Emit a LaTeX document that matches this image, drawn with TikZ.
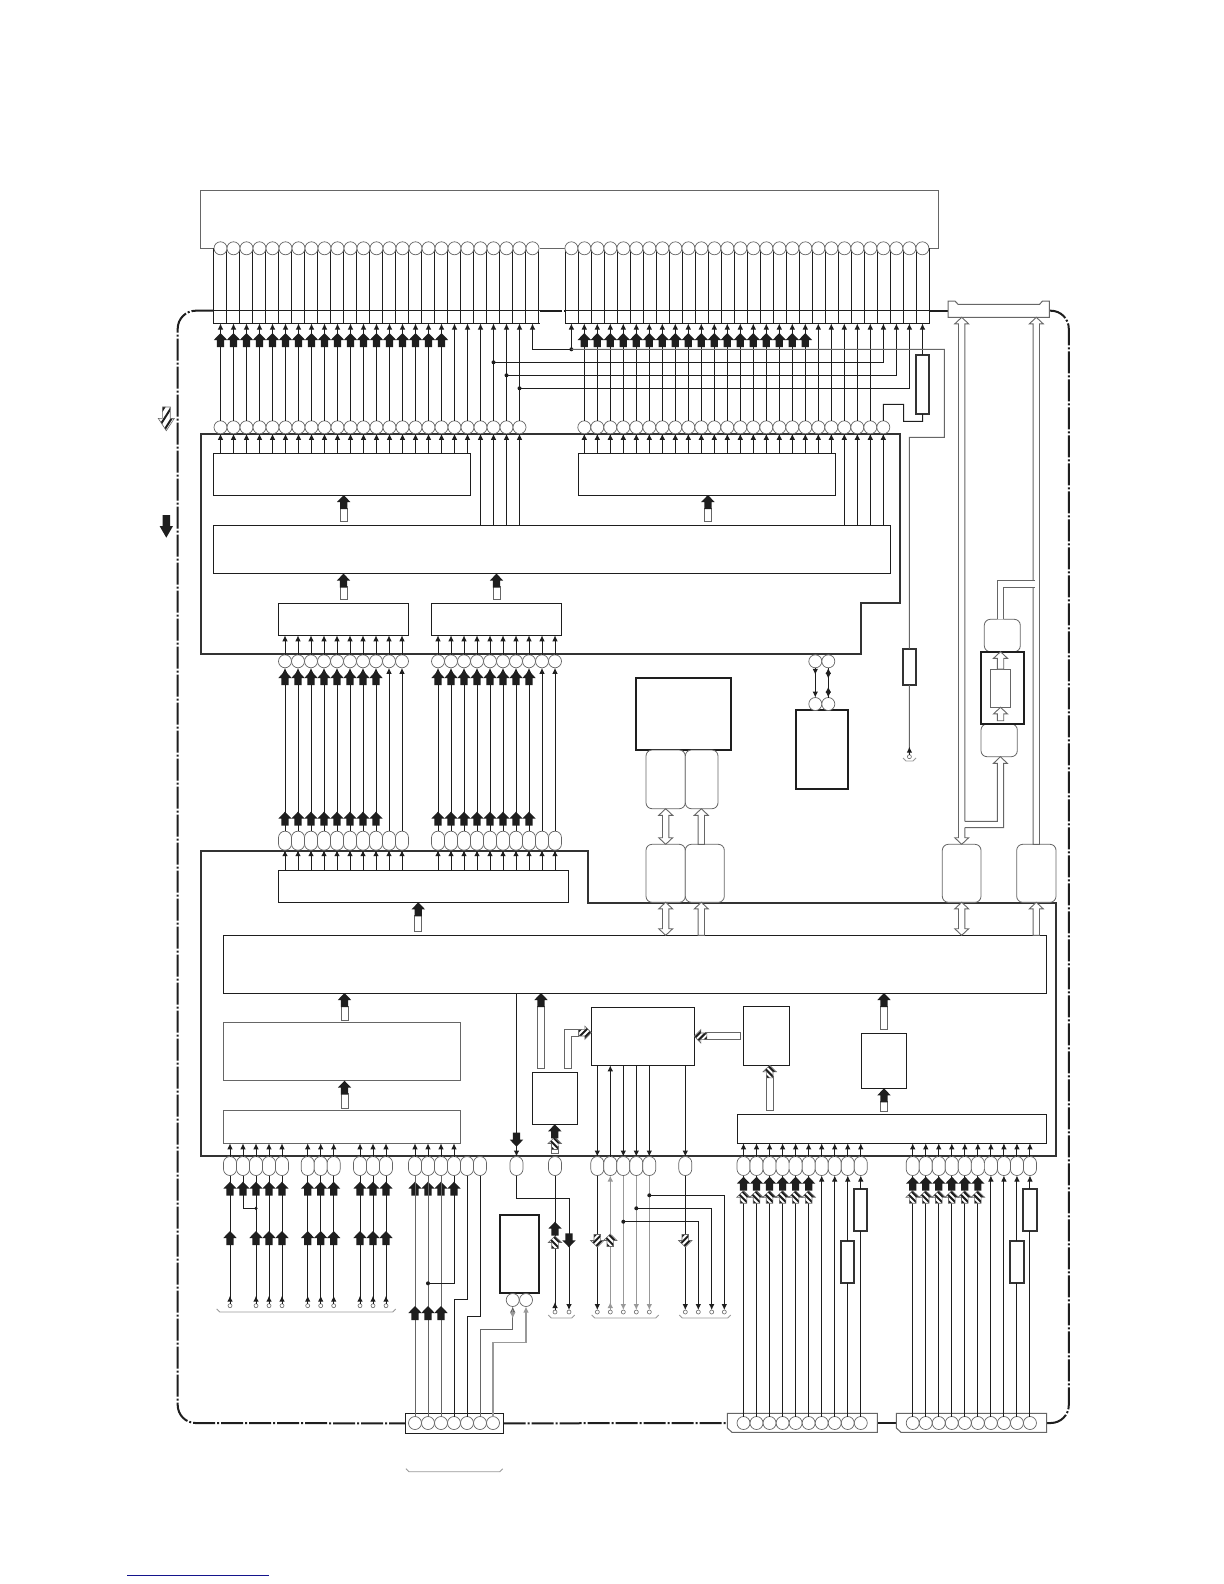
\documentclass[tikz,border=0pt]{standalone}
\usetikzlibrary{arrows.meta,calc}
\definecolor{ink}{HTML}{1E1E1E}
\definecolor{edge}{HTML}{333333}
\definecolor{soft}{HTML}{666666}
\definecolor{pale}{HTML}{999999}
\definecolor{navyline}{HTML}{14148C}
\tikzset{
  wire/.style={draw=ink,line width=.5pt},
  gwire/.style={draw=soft,line width=.5pt},
  lwire/.style={draw=pale,line width=.6pt},
  sig/.style={wire,-{Latex[length=3pt,width=2.8pt]}},
  gsig/.style={lwire,-{Latex[length=3pt,width=2.8pt]}},
  pin/.style={circle,draw=soft,fill=white,line width=.35pt,minimum size=6.5pt,inner sep=0pt,outer sep=0pt},
  oval/.style={rectangle,rounded corners=3.2pt,draw=soft,fill=white,line width=.35pt,minimum width=6.5pt,minimum height=9.5pt,inner sep=0pt,outer sep=0pt},
  term/.style={circle,draw=soft,fill=white,line width=.3pt,minimum size=2pt,inner sep=0pt,outer sep=0pt},
  box/.style={rectangle,draw=ink,fill=white,line width=.5pt,inner sep=0pt,outer sep=0pt},
  gbox/.style={rectangle,draw=soft,fill=white,line width=.45pt,inner sep=0pt,outer sep=0pt},
  hbox/.style={rectangle,draw=ink,fill=white,line width=1.1pt,inner sep=0pt,outer sep=0pt},
  rbox/.style={rectangle,rounded corners=3pt,draw=soft,fill=white,line width=.4pt,inner sep=0pt,outer sep=0pt},
  res/.style={rectangle,draw=edge,fill=white,line width=1pt,inner sep=0pt,outer sep=0pt,minimum width=6.6pt},
  border/.style={draw=edge,line width=1pt},
  frameline/.style={draw=ink,line width=1pt,dash pattern=on 11pt off 1pt on 1pt off 1pt},
  hollow/.style={draw=soft,fill=white,line width=.45pt},
  dotj/.style={fill=ink},
  brack/.style={draw=pale,line width=.45pt},
}
\newcommand\Bx[6]{\node[#1,anchor=north west,minimum width={(#5-#3)*0.5pt},minimum height={(#6-#4)*0.5pt}] (#2) at (#3,#4) {};}
\newcommand\SolidAr[3]{%
  \begin{scope}[shift={#1},#2]
    \ifnum#3>0 \draw[hollow] (-3.5,13) rectangle (3.5,14+#3);\fi
    \fill[ink] (0,0)--(6.7,7)--(3.6,7)--(3.6,14)--(-3.6,14)--(-3.6,7)--(-6.7,7)--cycle;
  \end{scope}}
\newcommand\HatchAr[3]{%
  \begin{scope}[shift={#1},#2]
    \ifnum#3>0 \draw[hollow] (-3.5,11) rectangle (3.5,12+#3);\fi
    \begin{scope}
      \clip (0,0)--(6.7,6.5)--(3.3,6.5)--(3.3,12.5)--(-3.3,12.5)--(-3.3,6.5)--(-6.7,6.5)--cycle;
      \fill[white] (-8,-1) rectangle (8,14);
      \foreach \k in {-24,-18,-12,-6,0,6,12}{\draw[ink,line width=1pt] (-8,\k)--(8,\k+16);}
    \end{scope}
    \draw[soft,line width=.3pt] (0,0)--(6.7,6.5)--(3.3,6.5)--(3.3,12.5)--(-3.3,12.5)--(-3.3,6.5)--(-6.7,6.5)--cycle;
  \end{scope}}
\newcommand\HollowUp[2]{% from base to tip (vertical)
  \draw[hollow] let \p1=#1,\p2=#2 in ({\x2-1.6pt},\y1)--({\x2-1.6pt},{\y2-3.3pt})--({\x2-3.5pt},{\y2-3.3pt})--(\x2,\y2)--({\x2+3.5pt},{\y2-3.3pt})--({\x2+1.6pt},{\y2-3.3pt})--({\x2+1.6pt},\y1)--cycle;}
\newcommand\HollowDbl[2]{% lower tip, upper tip
  \draw[hollow] let \p1=#1,\p2=#2 in (\x2,\y1)--({\x2-3.5pt},{\y1+3.3pt})--({\x2-1.6pt},{\y1+3.3pt})--({\x2-1.6pt},{\y2-3.3pt})--({\x2-3.5pt},{\y2-3.3pt})--(\x2,\y2)--({\x2+3.5pt},{\y2-3.3pt})--({\x2+1.6pt},{\y2-3.3pt})--({\x2+1.6pt},{\y1+3.3pt})--({\x2+3.5pt},{\y1+3.3pt})--cycle;}
\newcommand\Brk[3]{\draw[brack] (#1,#3-3) -- (#1+3,#3) -- (#2-3,#3) -- (#2,#3-3);}
\begin{document}
\begin{tikzpicture}[x=0.5pt,y=-0.5pt]
\useasboundingbox (0,0) rectangle (1224,1584);
\fill[white] (0,0) rectangle (1224,1584);
\coordinate (rowT) at (0,310.7);
\coordinate (rowA) at (0,323.5);

% ---- top connector outline
\draw[gwire] (213.5,248.3)--(200.7,248.3)--(200.7,190)--(938.6,190)--(938.6,248.3)--(929.6,248.3);
\draw[gwire] (539.5,248.3)--(565.4,248.3);

% ---- frame
\coordinate (fA1) at (213.5,310.7); \coordinate (fA2) at (539.5,310.7);
\coordinate (fB1) at (565.4,310.7); \coordinate (fB2) at (929.6,310.7);
\coordinate (crL) at (948.2,310.7); \coordinate (crR) at (1049.3,310.7);
\coordinate (cr) at (1000,317.3);
\Bx{box}{conA}{405.7}{1413.7}{503.7}{1433}
\coordinate (cbW) at (727.3,1423); \coordinate (cbE) at (877.3,1423);
\coordinate (ccW) at (896.3,1423); \coordinate (ccE) at (1046.7,1423);
\draw[frameline,rounded corners=9pt] (fA1) -| (177.7,1423) -- (conA.west);
\draw[frameline] (conA.east) -- (cbW);
\draw[frameline] (cbE) -- (ccW);
\draw[frameline,rounded corners=9pt] (ccE) -| (1068.8,310.7) -- (crR);
\draw[frameline] (fB2) -- (crL);
\draw[frameline] (fA2) -- (fB1);
\draw[gwire,fill=white] (948.2,317.3)--(948.2,301)--(955,301)--(958,304.3)--(1039.6,304.3)--(1042.5,301)--(1049.3,301)--(1049.3,317.3)--cycle;

% ---- contact columns
\foreach \i in {0,...,25}{
  \ifnum\i>11 \ifnum\i<19 \draw[wire,line width=.8pt] ({213.5+13*\i},248.3)--({213.5+13*\i},323.5);
  \else \draw[wire] ({213.5+13*\i},248.3)--({213.5+13*\i},323.5);\fi
  \else \draw[wire] ({213.5+13*\i},248.3)--({213.5+13*\i},323.5);\fi}
\foreach \i in {0,...,28}{\draw[wire] ({565.4+13*\i},248.3)--({565.4+13*\i},323.5);}
\draw[wire] (fA1)--(fA2); \draw[wire] (213.5,323.5)--(539.5,323.5);
\draw[wire] (fB1)--(fB2); \draw[wire] (565.4,323.5)--(929.6,323.5);
\foreach \i in {0,...,24}{\node[pin] (ta\i) at ({220.5+13*\i},248.3) {};}
\foreach \i in {0,...,27}{\node[pin] (tb\i) at ({571.4+13*\i},248.3) {};}

% ---- upper main block
\draw[border,fill=white] (200.7,433.7)--(900,433.7)--(900,602.7)--(860.7,602.7)--(860.7,654.4)--(200.7,654.4)--cycle;
\Bx{box}{dA}{213.3}{453.3}{470.7}{495}
\Bx{box}{dB}{578.2}{453.3}{835.7}{495}
\Bx{box}{ctl}{213.3}{525}{890.8}{573.6}
\Bx{box}{bA}{278.3}{603.3}{408.7}{635.3}
\Bx{box}{bB}{431.3}{603.3}{561.7}{635.3}
\SolidAr{(343.7,0 |- dA.south)}{rotate=0}{12}
\SolidAr{(707.9,0 |- dB.south)}{rotate=0}{12}
\SolidAr{(bA.north |- ctl.south)}{rotate=0}{12}
\SolidAr{(bB.north |- ctl.south)}{rotate=0}{12}

% ---- lower pins of upper row
\foreach \i in {0,...,23}{
  \node[pin] (la\i) at ({220.5+13*\i},427.3) {};
  \node[pin] (lb\i) at ({584.3+13*\i},427.3) {};
  \draw[sig] (la\i.north) -- (la\i.north |- rowA);
}
\foreach \i in {0,...,22}{\draw[sig] (lb\i.north) -- (lb\i.north |- rowA);}
\foreach \i in {0,...,19}{
  \draw[sig] (la\i.south |- dA.north) -- (la\i.south);
  \draw[sig] (lb\i.south |- dB.north) -- (lb\i.south);
}
\foreach \i in {20,...,23}{
  \draw[sig] (la\i.south |- ctl.north) -- (la\i.south);
  \draw[sig] (lb\i.south |- ctl.north) -- (lb\i.south);
}
\foreach \i in {0,...,17}{
  \SolidAr{(la\i.north |- 0,333)}{rotate=0}{0}
  \SolidAr{(lb\i.north |- 0,333)}{rotate=0}{0}
}
% cross wiring
\coordinate (jB) at (tb0.south |- 0,349.3);
\draw[sig] (jB) -- (tb0.south |- rowA);
\draw[sig] (jB) -| (ta24.south |- rowA);
\fill[dotj] (jB) circle (2);
\Bx{res}{rT}{915.7}{355}{929.3}{414}
\coordinate (j1) at (la21 |- 0,362.3);
\coordinate (j2) at (la22 |- 0,375.3);
\coordinate (j3) at (la23 |- 0,388.3);
\draw[sig] (j1) -| (tb24.south |- rowA);
\draw[sig] (j2) -| (tb25.south |- rowA);
\draw[sig] (j3) -| (tb26.south |- rowA);
\foreach \n in {j1,j2,j3}{\fill[dotj] (\n) circle (2);}
\draw[sig] (rT.north) -- (rT.north |- rowA);
\draw[wire] (rT.south) -- (922.5,421.3) -- (903.6,421.3) -- (903.6,404.3) -- (lb23.north |- 0,404.3) -- (lb23.north);
\Bx{res}{rS}{902.7}{648.7}{916.2}{685}
\node[term] (tS) at (909.4,756.7) {};
\draw[gwire] (jB) -- (944.3,349.3) -- (944.3,437.3) -- (909.4,437.3) -- (rS.north);
\draw[gwire] (rS.south) -- (tS.north);
\draw[sig] (tS.north) -- ++(0,-8);
\Brk{903}{916}{761}

% ---- inter-block bundles
\draw[border,fill=none] (200.7,1156)--(200.7,850.7)--(588.3,850.7)--(588.3,902.7)--(1056,902.7)--(1056,1156)--cycle;
\Bx{box}{wide}{278.3}{870.7}{568.3}{902.3}
\foreach \base/\nm in {285/A,438/B}{
  \foreach \i in {0,...,9}{
    \node[pin] (p\nm\i) at ({\base+13*\i},661.3) {};
    \node[oval] (q\nm\i) at ({\base+13*\i},840.7) {};
    \draw[sig] (p\nm\i.north) -- (p\nm\i.north |- b\nm.south);
    \draw[sig] (q\nm\i.north) -- (p\nm\i.south);
    \draw[sig] (q\nm\i.south |- wide.north) -- (q\nm\i.south);
  }
  \foreach \i in {0,...,7}{
    \SolidAr{(p\nm\i.south |- 0,671)}{rotate=0}{0}
    \SolidAr{(q\nm\i.north |- 0,811.7)}{rotate=0}{0}
  }
}
\SolidAr{(418.3,0 |- wide.south)}{rotate=0}{15}

% ---- lower main block
\Bx{box}{ctm}{223}{935.3}{1046.7}{993}
\Bx{gbox}{bC}{223.3}{1022}{460.7}{1080.7}
\Bx{gbox}{bD}{223.3}{1110}{460.7}{1143.3}
\SolidAr{(344.5,0 |- ctm.south)}{rotate=0}{13}
\SolidAr{(344.5,0 |- bC.south)}{rotate=0}{14}
\Bx{box}{bF}{532.3}{1072.3}{577.3}{1124.3}
\Bx{box}{bG}{591.3}{1007.3}{694.3}{1065.3}
\Bx{box}{bQ}{743.3}{1006.3}{789.3}{1065.3}
\Bx{box}{bR}{861.3}{1033.3}{906.7}{1088.3}
\Bx{box}{bH}{737.3}{1114.3}{1046.7}{1143.3}
\SolidAr{(541,0 |- ctm.south)}{rotate=0}{61}
\SolidAr{(bR.north |- ctm.south)}{rotate=0}{22}
\SolidAr{(884,0 |- bR.south)}{rotate=0}{9}
\HatchAr{(769.7,0 |- bQ.south)}{rotate=0}{33}
\HatchAr{(bG.east)}{rotate=90}{34}
\draw[hollow,fill=white] (564.3,1068.3)--(564.3,1029.3)--(578,1029.3)--(578,1036.7)--(571.7,1036.7)--(571.7,1068.3)--cycle;
\HatchAr{(bG.west |- 0,1032.7)}{rotate=-90}{0}
% F input
\draw[hollow] (551.4,1146)--(551.4,1153)--(558.2,1153)--(558.2,1146)--cycle;
\HatchAr{(bF.south |- 0,1137)}{rotate=0}{0}
\SolidAr{(bF.south)}{rotate=0}{0}

% ---- lower ovals, group inputs
\foreach \x [count=\c] in {230,243,256,269,282,307.7,320.7,333.7,360,373,386,415,428,441,454,467,480}{
  \node[oval] (o\c) at (\x,1166) {};
}
\foreach \c in {1,...,15}{
  \draw[sig] (o\c.north) -- (o\c.north |- bD.south);
  \SolidAr{(o\c.south |- 0,1181.7)}{rotate=0}{0}
}
\foreach \x/\o [count=\c] in {230/1,256/3,269/4,282/5,307.7/6,320.7/7,333.7/8,360/9,373/10,386/11}{
  \node[term] (tt\c) at (\x,1305.7) {};
  \draw[wire] (o\o.south) -- (tt\c.north);
  \draw[sig] (tt\c.north) -- ++(0,-8);
  \SolidAr{(o\o.south |- 0,1231)}{rotate=0}{0}
}
\coordinate (j4) at (o3 |- 0,1208.3);
\draw[wire] (o2.south) |- (j4);
\fill[dotj] (j4) circle (1.7);
\Brk{216.7}{395.7}{1312}

% ---- connector A
\foreach \i in {0,...,6}{\node[pin] (ca\i) at ({415+13*\i},1423) {};}
\foreach \i/\o in {0/12,1/13,2/14}{
  \draw[gwire] (ca\i.north) -- (o\o.south);
  \SolidAr{(ca\i.north |- 0,1306)}{rotate=0}{0}
}
\coordinate (j5) at (o13 |- 0,1283.3);
\draw[wire] (o15.south) |- (j5);
\fill[dotj] (j5) circle (2);
\draw[wire] (o16.south) -- (467,1299.3) -- (ca3.north |- 0,1299.3) -- (ca3.north);
\draw[wire] (o17.south) -- (480,1316.3) -- (ca4.north |- 0,1316.3) -- (ca4.north);
\Brk{406}{502.7}{1471.7}
\Bx{hbox}{bE}{500}{1215}{539.3}{1293.3}
\node[pin] (e1) at (512.7,1300) {};
\node[pin] (e2) at (526,1300) {};
\draw[gwire,{Latex[length=3pt,width=2.8pt]}-] (e1.south) |- (ca5.north |- 0,1329.3) -- (ca5.north);
\draw[gsig] (e1.south |- 0,1310) -- (e1.south |- 0,1318.5);
\draw[lwire,{Latex[length=3pt,width=2.8pt]}-] (e2.south) |- (ca6.north |- 0,1342.3) -- (ca6.north);

% ---- single ovals
\node[oval] (om) at (516.5,1166) {};
\node[oval] (on) at (555,1166) {};
\node[term] (tm) at (569,1312) {};
\node[term] (tn) at (555,1312) {};
\draw[sig] (516.5,0 |- ctm.south) -- (om.north);
\SolidAr{(om.north |- 0,1146.7)}{rotate=180}{0}
\draw[sig] (om.south) -- (516.5,1198.3) -- (569,1198.3) -- (tm.north);
\SolidAr{(tm.north |- 0,1247.3)}{rotate=180}{0}
\draw[wire] (on.south) -- (tn.north);
\draw[sig] (tn.north) -- ++(0,-8);
\SolidAr{(on.south |- 0,1221.7)}{rotate=0}{0}
\HatchAr{(on.south |- 0,1236)}{rotate=0}{0}
\Brk{548.3}{574.7}{1318}

% ---- G outputs
\foreach \x [count=\c] in {597.3,610.3,623.3,636.3,649.3,685.3,698.3,711.7,724.3}{
  \node[term] (ts\c) at (\x,1312) {};
}
\foreach \x [count=\c] in {597.3,610.3,623.3,636.3,649.3,685.3}{
  \node[oval] (og\c) at (\x,1166) {};
}
\foreach \c in {1,3,4,5,6}{\draw[sig] (og\c.north |- bG.south) -- (og\c.north);}
\draw[sig] (og2.north) -- (og2.north |- bG.south);
\draw[sig] (og1.south) -- (ts1.north);
\draw[sig] (og6.south) -- (ts6.north);
\draw[gsig] (og3.south) -- (ts3.north);
\draw[gsig] (og4.south) -- (ts4.north);
\draw[gsig] (og5.south) -- (ts5.north);
\draw[gsig] (ts2.north) -- (og2.south);
\draw[gsig] (ts2.north) -- ++(0,-8);
\HatchAr{(og1.south |- 0,1247)}{yscale=-1}{0}
\HatchAr{(og2.south |- 0,1234)}{rotate=0}{0}
\HatchAr{(og6.south |- 0,1247)}{yscale=-1}{0}
\coordinate (j6) at (og3.south |- 0,1221.7);
\coordinate (j7) at (og4.south |- 0,1208.3);
\coordinate (j8) at (og5.south |- 0,1195.3);
\draw[sig] (j6) -| (ts7.north);
\draw[sig] (j7) -| (ts8.north);
\draw[sig] (j8) -| (ts9.north);
\foreach \n in {j6,j7,j8}{\fill[dotj] (\n) circle (2);}
\Brk{591.7}{658.7}{1318}
\Brk{679.3}{730.7}{1318}

% ---- connectors B, C with their ovals
\draw[gwire,fill=white] (727.3,1413.3)--(877.3,1413.3)--(877.3,1432.3)--(732,1432.3)--(727.3,1428)--cycle;
\draw[gwire,fill=white] (896.3,1413.3)--(1046.7,1413.3)--(1046.7,1432.3)--(901,1432.3)--(896.3,1428)--cycle;
\foreach \base/\nm in {743.5/A,912.7/B}{
  \foreach \i in {0,...,9}{
    \node[oval] (v\nm\i) at ({\base+13.03*\i},1166) {};
    \node[pin] (w\nm\i) at ({\base+13.03*\i},1423) {};
    \draw[sig] (v\nm\i.north) -- (v\nm\i.north |- bH.south);
  }
  \foreach \i in {0,...,5}{
    \draw[wire] (w\nm\i.north) -- (v\nm\i.south);
    \SolidAr{(v\nm\i.south |- 0,1176.7)}{rotate=0}{0}
    \HatchAr{(v\nm\i.south |- 0,1190.7)}{rotate=0}{0}
  }
  \foreach \i in {6,7}{\draw[sig] (w\nm\i.north) -- (v\nm\i.south);}
  \node[res,minimum height=21pt] (y\nm8) at (v\nm8.south |- 0,1262) {};
  \node[res,minimum height=21pt] (y\nm9) at (v\nm9.south |- 0,1210) {};
  \draw[wire] (w\nm8.north) -- (y\nm8.south);
  \draw[wire] (w\nm9.north) -- (y\nm9.south);
  \draw[sig] (y\nm8.north) -- (v\nm8.south);
  \draw[sig] (y\nm9.north) -- (v\nm9.south);
}

% ---- centre blocks
\Bx{hbox}{bN}{636.3}{677.7}{731.3}{750}
\Bx{rbox}{ra}{646}{750}{685.3}{808.7}
\Bx{rbox}{rb}{685.3}{750}{718}{808.7}
\Bx{rbox}{rc}{646}{844.3}{685.3}{902.3}
\Bx{rbox}{rd}{685.3}{844.3}{724.3}{902.3}
\HollowDbl{(665.7,0 |- rc.north)}{(665.7,0 |- ra.south)}
\HollowUp{(701.3,0 |- rd.north)}{(701.3,0 |- rb.south)}
\HollowDbl{(665.7,0 |- ctm.north)}{(665.7,0 |- rc.south)}
\HollowUp{(701.3,0 |- ctm.north)}{(701.3,0 |- rd.south)}

\Bx{hbox}{bP}{795.7}{710.3}{848.3}{789}
\node[pin] (u1) at (815.3,661.3) {};
\node[pin] (u2) at (828.3,661.3) {};
\node[pin] (u3) at (815.3,704) {};
\node[pin] (u4) at (828.3,704) {};
\draw[sig] (u1.south) -- (u3.north);
\draw[sig] (u1.south) -- ++(0,7);
\draw[wire,{Latex[length=3pt,width=2.8pt]}-{Latex[length=3pt,width=2.8pt]}] (u2.south) -- (u4.north);
\draw[sig] (u2.south) -- ++(0,11);
\draw[sig] (u4.north) -- ++(0,-11);

% ---- right side buses
\Bx{rbox}{bI}{942.3}{844.3}{981}{902.3}
\Bx{rbox}{bJ}{1016.7}{844.3}{1056}{902.3}
\Bx{rbox}{bK}{981}{724}{1017.3}{756.7}
\Bx{rbox}{bM}{984.3}{619.3}{1020.3}{651.7}
\Bx{hbox}{bL}{980.7}{651.7}{1023.7}{724}
\Bx{gbox}{bLi}{990.3}{669}{1010.7}{707.3}
\HollowUp{(bLi.south |- 0,720.7)}{(bLi.south)}
\HollowUp{(bLi.north)}{(bLi.north |- bL.north)}
\HollowDbl{(961.7,0 |- bI.north)}{(961.7,0 |- cr)}
\HollowUp{(1036.3,0 |- bJ.north)}{(1036.3,0 |- cr)}
\HollowDbl{(961.7,0 |- ctm.north)}{(961.7,0 |- bI.south)}
\HollowUp{(1036.3,0 |- ctm.north)}{(1036.3,0 |- bJ.south)}
% elbow from the first bus into K
\fill[white] (963,821.3)--(997.3,821.3)--(997.3,763.4)--(993.4,763.4)--(1000.4,756.7)--(1007.4,763.4)--(1003.6,763.4)--(1003.6,827.6)--(963,827.6)--cycle;
\draw[gwire,line width=.45pt] (964.9,821.3)--(997.3,821.3)--(997.3,763.4)--(993.4,763.4)--(1000.4,756.7)--(1007.4,763.4)--(1003.6,763.4)--(1003.6,827.6)--(964.9,827.6);
% elbow from M into the second bus
\fill[white] (997.3,619.3)--(997.3,580)--(1036,580)--(1036,587.3)--(1003.7,587.3)--(1003.7,619.3)--cycle;
\draw[gwire,line width=.45pt] (997.3,619.3)--(997.3,580)--(1034.7,580);
\draw[gwire,line width=.45pt] (1003.7,619.3)--(1003.7,587.3)--(1034.7,587.3);

% ---- legend and page line
\HatchAr{(166.3,430.7)}{xscale=1.2,yscale=-1.9}{0}
\fill[ink] (166.3,537.7)--(173,526)--(170,526)--(170,515)--(162.6,515)--(162.6,526)--(159.6,526)--cycle;
\draw[navyline,line width=.75pt] (127.3,1575.3) -- (269,1575.3);
\end{tikzpicture}
\end{document}
